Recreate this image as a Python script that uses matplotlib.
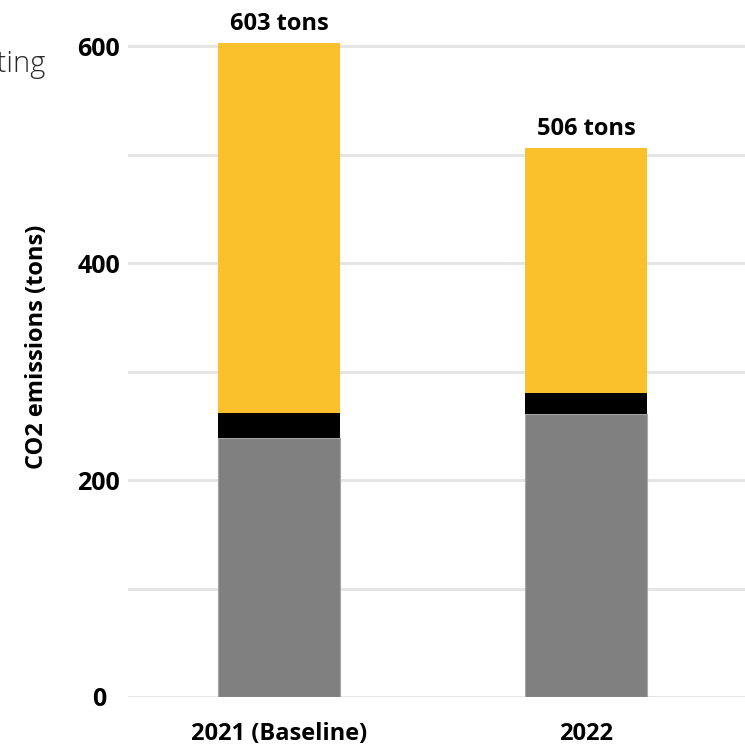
import numpy as np
import matplotlib
matplotlib.use("Agg")
import matplotlib.pyplot as plt

plt.rcParams['font.family'] = ['Open Sans', 'DejaVu Sans']

years = ['2021 (Baseline)', '2022']
gray_part = [239, 261]
black_part = [23, 19]
yellow_part = [341, 226]
totals = [603, 506]
yticks = [0, 200, 400, 600]

fig = plt.figure(figsize=(7.45, 7.45), dpi=100)
ax = fig.add_axes([128 / 745, 48 / 745, 617 / 745, 697 / 745])

x = np.arange(len(years))
w = 0.397
g = np.array(gray_part)
b = np.array(black_part)
yl = np.array(yellow_part)

ax.bar(x, g, w, color='#808080', edgecolor='#a6a6a6', linewidth=0.8, zorder=3)
ax.bar(x, b, w, bottom=g, color='#000000', zorder=3)
ax.bar(x, yl, w, bottom=g + b, color='#FBC12D', zorder=3)

for xi, t in zip(x, totals):
    ax.annotate('%d tons' % t, (xi, t), xytext=(0, 5), textcoords='offset points',
                ha='center', va='bottom', fontsize=17, fontweight='bold')

ax.set_xlim(-0.492, 1.518)
ax.set_ylim(0, 642.4)
ax.set_yticks(np.arange(0, 700, 100), minor=True)
ax.set_yticks(yticks)
ax.set_yticklabels([str(v) for v in yticks], fontsize=18, fontweight='bold', ha='center')
ax.tick_params(axis='y', which='both', length=0, pad=21)
ax.set_xticks(x)
ax.set_xticklabels(years, fontsize=17, fontweight='bold')
ax.tick_params(axis='x', length=0, pad=18)
ax.grid(axis='y', which='both', color='#e4e4e4', linewidth=2, zorder=0)
for s in ax.spines.values():
    s.set_visible(False)

ax.set_ylabel('CO2 emissions (tons)', fontsize=17, fontweight='bold')
ax.yaxis.set_label_coords(-79 / 617, (697 - 347) / 697)

# cropped title fragment at the left edge
fig.text(45 / 745, 1 - 72 / 745, 'Accounting', ha='right', va='baseline',
         fontsize=21, fontweight='light', color='#2b2b2b')

fig.savefig('out.png', dpi=100)
